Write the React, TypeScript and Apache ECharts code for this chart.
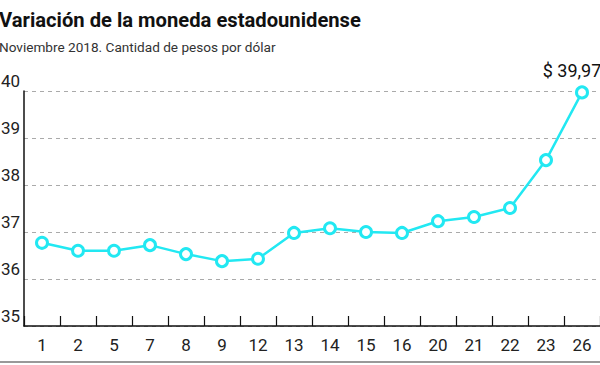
import React, { useEffect, useRef } from "react";
import * as echarts from "echarts";

const categories = ["1", "2", "5", "7", "8", "9", "12", "13", "14", "15", "16", "20", "21", "22", "23", "26"];
const values = [36.77, 36.6, 36.6, 36.72, 36.53, 36.38, 36.43, 36.98, 37.08, 37.0, 36.98, 37.23, 37.32, 37.51, 38.53, 39.97];
const lastLabel = "$ 39,97";
const titleText = "Variación de la moneda estadounidense";
const subtitleText = "Noviembre 2018. Cantidad de pesos por dólar";

const FONT = "Roboto, 'Liberation Sans', sans-serif";
const CYAN = "#22E8F2";

export default function App() {
  const ref = useRef<HTMLDivElement>(null);
  useEffect(() => {
    if (!ref.current) return;
    const chart = echarts.init(ref.current, null, { renderer: "svg" });
    const data = values.map((v, i) =>
      i === values.length - 1
        ? {
            value: v,
            label: {
              show: true,
              position: "top",
              formatter: lastLabel,
              fontSize: 18,
              color: "#111",
              fontFamily: FONT,
              offset: [-10, -1],
            },
          }
        : v
    );
    chart.setOption({
      animation: false,
      backgroundColor: "#fff",
      grid: { left: 24, right: 0, top: 91, bottom: 39, containLabel: false, outerBoundsMode: "none" },
      xAxis: {
        type: "category",
        data: categories,
        boundaryGap: true,
        axisLine: { lineStyle: { color: "#111", width: 1.5 } },
        axisTick: { show: true, inside: true, length: 10, lineStyle: { color: "#111", width: 1.2 } },
        axisLabel: { fontSize: 17, color: "#222", fontFamily: FONT, margin: 10 },
      },
      yAxis: {
        type: "value",
        min: 35,
        max: 40,
        interval: 1,
        axisLine: { show: true, lineStyle: { color: "#111", width: 1.5 } },
        axisTick: { show: false },
        axisLabel: {
          fontSize: 17,
          color: "#222",
          fontFamily: FONT,
          margin: 4,
          verticalAlign: "bottom",
          lineHeight: 20,
        },
        splitLine: { show: true, lineStyle: { color: "#aaa", type: [4, 4], width: 1.2 } },
      },
      series: [
        {
          type: "line",
          data,
          symbol: "circle",
          symbolSize: 11,
          showSymbol: true,
          lineStyle: { color: CYAN, width: 2.5 },
          itemStyle: { color: "#fff", borderColor: CYAN, borderWidth: 3 },
          z: 5,
        },
      ],
      graphic: [
        {
          type: "text",
          left: -1,
          top: 10,
          style: { text: titleText, fontSize: 20.2, fontWeight: "bold", fill: "#111", fontFamily: FONT },
        },
        {
          type: "text",
          left: -1,
          top: 40,
          style: { text: subtitleText, fontSize: 13.6, fill: "#333", fontFamily: FONT },
        },
        {
          type: "line",
          shape: { x1: 0, y1: 362, x2: 600, y2: 362 },
          style: { stroke: "#999", lineWidth: 2 },
        },
      ],
    });
    return () => chart.dispose();
  }, []);
  return (
    <div
      ref={ref}
      style={{ position: "fixed", left: 0, top: 0, width: 600, height: 365 }}
    />
  );
}
